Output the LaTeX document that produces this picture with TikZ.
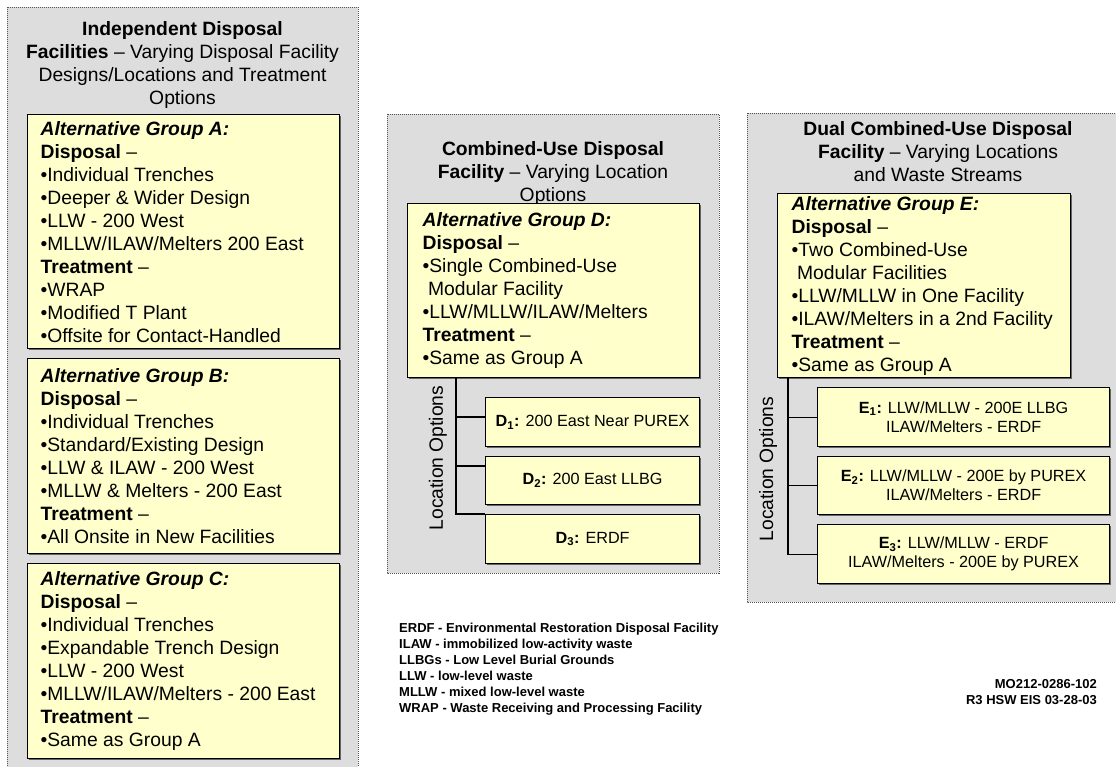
\documentclass[tikz,border=0pt]{standalone}
\usepackage{fontspec}
\setmainfont{Liberation Sans}
\usetikzlibrary{shadows}
\definecolor{panelgray}{HTML}{DDDDDD}
\definecolor{notefill}{HTML}{FFFFCC}
\definecolor{dotline}{HTML}{555555}
\tikzset{
  panel/.style={draw=dotline, fill=panelgray, line width=0.8pt, dash pattern=on 1pt off 1pt},
  altbox/.style={draw=black, fill=notefill, line width=1.2pt, rectangle, anchor=north west,
    align=flush left, inner ysep=0pt,
    font={\fontsize{19.3}{23}\selectfont\hyphenpenalty=10000},
    drop shadow={shadow xshift=1.5pt, shadow yshift=-1.5pt, fill=black!60, opacity=1}},
  locbox/.style={draw=black, fill=notefill, line width=1.2pt, rectangle, anchor=north west,
    align=center, inner sep=0pt,
    font={\fontsize{16.2}{19}\selectfont},
    drop shadow={shadow xshift=1.5pt, shadow yshift=-1.5pt, fill=black!60, opacity=1}},
  paneltitle/.style={anchor=north, align=center, inner sep=0pt,
    font={\fontsize{19.3}{23}\selectfont}},
  sidelabel/.style={rotate=90, inner sep=0pt, font={\fontsize{19.3}{23}\selectfont}},
  link/.style={draw=black, line width=1.1pt},
  notes/.style={inner sep=0pt, font={\fontsize{13}{16}\selectfont\bfseries}}
}
\begin{document}
\begin{tikzpicture}[x=1pt, y=-1pt]
\clip (0,0) rectangle (1116,766);
\fill[white] (0,0) rectangle (1116,766);

% three background panels
\path[panel] (7,7) rectangle (358,790);
\path[panel] (387,114) rectangle (719,573);
\path[panel] (747,113) rectangle (1135,602);

% panel headings
\node[paneltitle] (titleA) at (182.5,21) {\textbf{Independent Disposal}\\
  \textbf{Facilities} – Varying Disposal Facility\\
  Designs/Locations and Treatment\\
  Options};
\node[paneltitle] (titleD) at (553,141) {\textbf{Combined-Use Disposal}\\
  \textbf{Facility} – Varying Location\\
  Options};
\node[paneltitle] (titleE) at (938,121) {\textbf{Dual Combined-Use Disposal}\\
  \textbf{Facility} – Varying Locations\\
  and Waste Streams};

% left panel: groups A, B, C
\node[altbox, minimum width=312pt, minimum height=234pt, text width=286pt, inner xsep=13pt] (grpA) at (27,114) {%
  \textbf{\textit{Alternative Group A:}}\\
  \textbf{Disposal} –\\
  •Individual Trenches\\
  •Deeper \& Wider Design\\
  •LLW - 200 West\\
  •MLLW/ILAW/Melters 200 East\\
  \textbf{Treatment} –\\
  •WRAP\\
  •Modified T Plant\\
  •Offsite for Contact-Handled};
\node[altbox, minimum width=312pt, minimum height=195pt, text width=286pt, inner xsep=13pt] (grpB) at (27,358) {%
  \textbf{\textit{Alternative Group B:}}\\
  \textbf{Disposal} –\\
  •Individual Trenches\\
  •Standard/Existing Design\\
  •LLW \& ILAW - 200 West\\
  •MLLW \& Melters - 200 East\\
  \textbf{Treatment} –\\
  •All Onsite in New Facilities};
\node[altbox, minimum width=312pt, minimum height=195pt, text width=286pt, inner xsep=13pt] (grpC) at (27,563) {%
  \textbf{\textit{Alternative Group C:}}\\
  \textbf{Disposal} –\\
  •Individual Trenches\\
  •Expandable Trench Design\\
  •LLW - 200 West\\
  •MLLW/ILAW/Melters - 200 East\\
  \textbf{Treatment} –\\
  •Same as Group A};

% middle panel: group D and its locations
\node[altbox, minimum width=292pt, minimum height=174pt, text width=262pt, inner xsep=15pt] (grpD) at (407,203) {%
  \textbf{\textit{Alternative Group D:}}\\
  \textbf{Disposal} –\\
  •Single Combined-Use\\
  \hspace*{0.28em}Modular Facility\\
  •LLW/MLLW/ILAW/Melters\\
  \textbf{Treatment} –\\
  •Same as Group A};
\node[locbox, minimum width=214pt, minimum height=49pt] (D1) at (485,397) {\textbf{D\textsubscript{1}:} 200 East Near PUREX};
\node[locbox, minimum width=214pt, minimum height=48pt] (D2) at (485,456) {\textbf{D\textsubscript{2}:} 200 East LLBG};
\node[locbox, minimum width=214pt, minimum height=49pt] (D3) at (485,514) {\textbf{D\textsubscript{3}:} ERDF};
\node[sidelabel] (locD) at (438,458) {Location Options};
\coordinate (trunkD) at (456,514);
\draw[link] (grpD.south -| trunkD) -- (trunkD) -- (D3.north west);
\draw[link] (456,417) -- (D1.west |- 0,417);
\draw[link] (456,466) -- (D2.west |- 0,466);

% right panel: group E and its locations
\node[altbox, minimum width=293pt, minimum height=184pt, text width=265pt, inner xsep=14pt] (grpE) at (777,193) {%
  \textbf{\textit{Alternative Group E:}}\\
  \textbf{Disposal} –\\
  •Two Combined-Use\\
  \hspace*{0.28em}Modular Facilities\\
  •LLW/MLLW in One Facility\\
  \mbox{•ILAW/Melters in a 2nd Facility}\\
  \textbf{Treatment} –\\
  •Same as Group A};
\node[locbox, minimum width=292pt, minimum height=59pt] (E1) at (817,387) {\textbf{E\textsubscript{1}:} LLW/MLLW - 200E LLBG\\ILAW/Melters - ERDF};
\node[locbox, minimum width=292pt, minimum height=58pt] (E2) at (817,456) {\textbf{E\textsubscript{2}:} LLW/MLLW - 200E by PUREX\\ILAW/Melters - ERDF};
\node[locbox, minimum width=292pt, minimum height=59pt] (E3) at (817,524) {\textbf{E\textsubscript{3}:} LLW/MLLW - ERDF\\ILAW/Melters - 200E by PUREX};
\node[sidelabel] (locE) at (768,469) {Location Options};
\coordinate (trunkE) at (788,0);
\draw[link] (grpE.south -| trunkE) |- (E3.west);
\draw[link] (E1.west -| trunkE) -- (E1.west);
\draw[link] (E2.west -| trunkE) -- (E2.west);

% abbreviations
\node[notes, anchor=north west, align=left] (legend) at (399,623) {%
  ERDF - Environmental Restoration Disposal Facility\\
  ILAW - immobilized low-activity waste\\
  LLBGs - Low Level Burial Grounds\\
  LLW - low-level waste\\
  MLLW - mixed low-level waste\\
  WRAP - Waste Receiving and Processing Facility};

% drawing reference
\node[notes, anchor=north east, align=right] (docref) at (1097,679) {%
  MO212-0286-102\\
  R3 HSW EIS 03-28-03};
\end{tikzpicture}
\end{document}
